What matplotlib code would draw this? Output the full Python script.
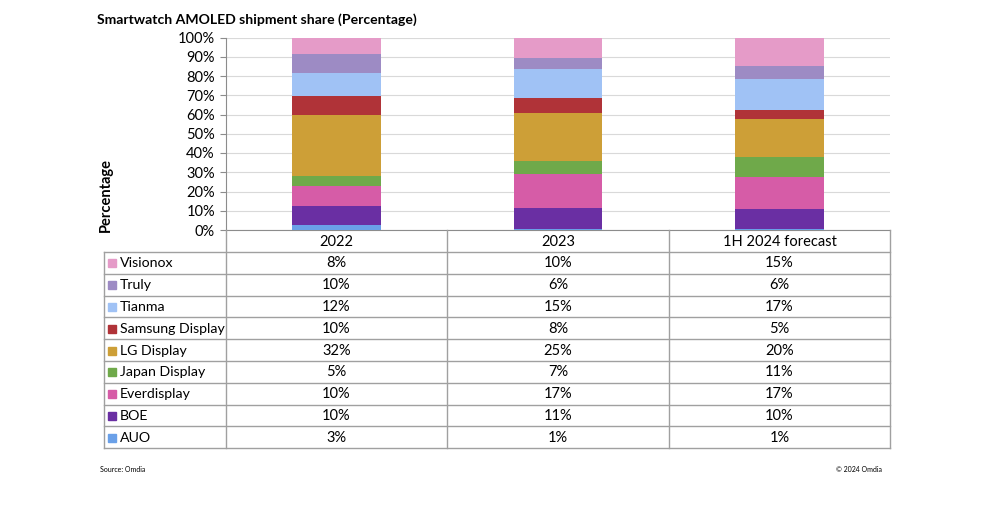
import numpy as np
import matplotlib.pyplot as plt

# chart data
years = ["2022", "2023", "1H 2024 forecast"]
makers = ["AUO", "BOE", "Everdisplay", "Japan Display", "LG Display",
          "Samsung Display", "Tianma", "Truly", "Visionox"]
colors = ["#6AA0E8", "#6A2FA3", "#D65CA7", "#6FA94A", "#CD9F37",
          "#B03338", "#A0C2F5", "#9D8BC4", "#E59BC8"]

# bar segment heights (unrounded shares)
share_2022 = [2.6, 10.0, 10.4, 5.0, 31.7, 10.0, 12.1, 9.5, 8.7]
share_2023 = [0.5, 11.1, 17.5, 6.7, 24.9, 7.8, 15.1, 6.0, 10.4]
share_2024 = [0.7, 10.0, 17.0, 10.3, 19.6, 4.7, 16.4, 6.4, 14.9]

# rounded numbers printed in the table
table_2022 = [3, 10, 10, 5, 32, 10, 12, 10, 8]
table_2023 = [1, 11, 17, 7, 25, 8, 15, 6, 10]
table_2024 = [1, 10, 17, 11, 20, 5, 17, 6, 15]

plt.rcParams['font.family'] = ['Lato', 'DejaVu Sans']

W, H = 982, 514
fig = plt.figure(figsize=(W / 100, H / 100), dpi=100)

# --- stacked bars ---
ax = fig.add_axes([226 / W, 1 - 230 / H, (890 - 226) / W, (230 - 37.5) / H])
shares = np.array([share_2022, share_2023, share_2024])
x = np.arange(len(years))
bottom = np.zeros(len(years))
for i, name in enumerate(makers):
    ax.bar(x, shares[:, i], 0.4, bottom=bottom, color=colors[i], zorder=3)
    bottom += shares[:, i]

ax.set_xlim(-0.5, 2.5)
ax.set_ylim(0, 100)
ax.set_yticks(np.arange(0, 101, 10))
ax.set_yticklabels([f"{v}%" for v in range(0, 101, 10)], fontsize=10.5)
ax.set_xticks([])
ax.grid(axis='y', color='#D9D9D9', lw=0.8, zorder=0)
for s in ['top', 'right']:
    ax.spines[s].set_visible(False)
ax.spines['left'].set_color('#8C8C8C')
ax.spines['bottom'].set_color('#8C8C8C')
ax.tick_params(axis='y', direction='out', length=4, color='#8C8C8C', pad=4)

# --- data table drawn in pixel coordinates ---
tax = fig.add_axes([0, 0, 1, 1])
tax.set_xlim(0, W)
tax.set_ylim(H, 0)
tax.axis('off')

lc = '#A0A0A0'
col_x = [226, 447, 669, 890]
top, head_bot, row_h = 230, 252, 21.8
n = len(makers)
bot = head_bot + n * row_h
for cx in col_x:
    tax.plot([cx, cx], [top, bot], color=lc, lw=1)
tax.plot([104, 104], [head_bot, bot], color=lc, lw=1)
tax.plot([104, 890], [head_bot, head_bot], color=lc, lw=1)
for r in range(1, n + 1):
    y = head_bot + r * row_h
    tax.plot([104, 890], [y, y], color=lc, lw=1)

for j, yr in enumerate(years):
    tax.text((col_x[j] + col_x[j + 1]) / 2, (top + head_bot) / 2 + 1, yr,
             ha='center', va='center', fontsize=10.5)

tables = [table_2022, table_2023, table_2024]
for r, i in enumerate(range(n - 1, -1, -1)):
    yc = head_bot + (r + 0.5) * row_h + 0.5
    tax.add_patch(plt.Rectangle((108, yc - 4), 8, 8, color=colors[i]))
    tax.text(120, yc, makers[i], ha='left', va='center', fontsize=10.2)
    for j in range(3):
        tax.text((col_x[j] + col_x[j + 1]) / 2, yc, f"{tables[j][i]}%",
                 ha='center', va='center', fontsize=10.5)

# titles and notes
tax.text(97, 20, "Smartwatch AMOLED shipment share (Percentage)",
         ha='left', va='center', fontsize=10.1, fontweight='bold')
tax.text(106, 195, "Percentage", rotation=90, ha='center', va='center',
         fontsize=10.5, fontweight='bold')
tax.text(100, 470, "Source: Omdia", ha='left', va='center', fontsize=5)
tax.text(882, 470, "\u00a9 2024 Omdia", ha='right', va='center', fontsize=5)

fig.savefig("out.png", dpi=100)
